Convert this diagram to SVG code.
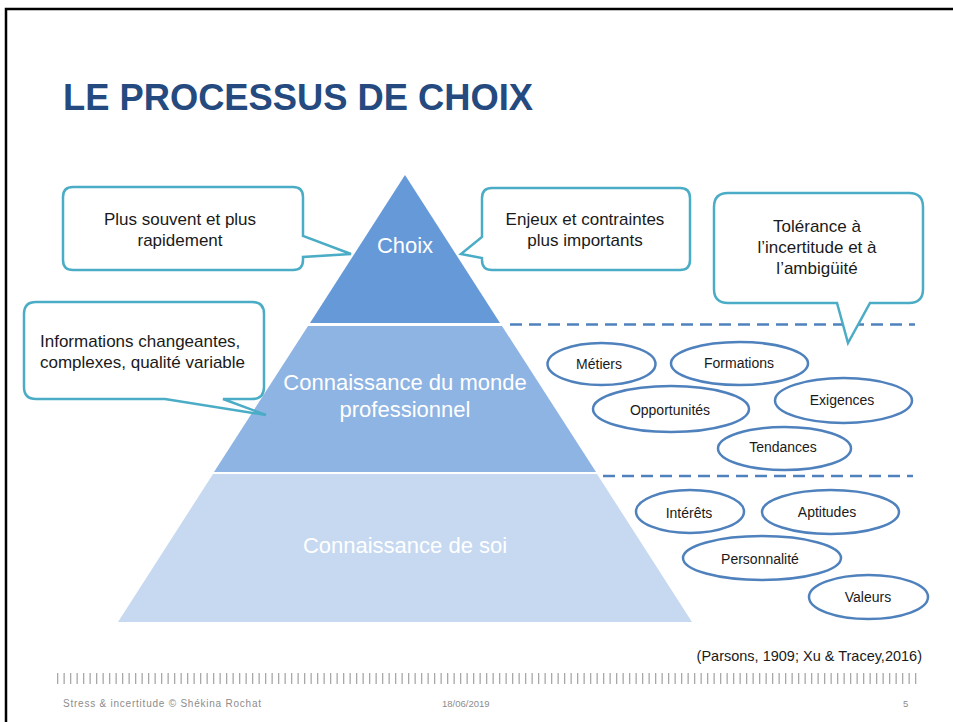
<svg xmlns="http://www.w3.org/2000/svg" width="953" height="722" viewBox="0 0 953 722">
<style>
.callout{fill:#fff;stroke:#4BACC6;stroke-width:2.5;stroke-linejoin:miter}
.ctext{font-family:"Liberation Sans",Arial,sans-serif;font-size:17px;fill:#1a1a1a}
.oval{fill:#fff;stroke:#4F81BD;stroke-width:2.5}
.otext{font-family:"Liberation Sans",Arial,sans-serif;font-size:14px;fill:#1a1a1a;text-anchor:middle}
.tier{font-family:"Liberation Sans",Arial,sans-serif;font-size:22px;fill:#fff;text-anchor:middle}
.dash{stroke:#4F81BD;stroke-width:2.5;stroke-dasharray:12 7;fill:none}
.foot{font-family:"Liberation Sans",Arial,sans-serif;fill:#8C8C8C}
</style>
<rect width="953" height="722" fill="#fff"/>
<path d="M6,722 V9 H953" fill="none" stroke="#000" stroke-width="2.5"/>
<text x="63" y="110" font-family="'Liberation Sans',Arial,sans-serif" font-weight="bold" font-size="36" fill="#244A80" textLength="470" lengthAdjust="spacingAndGlyphs">LE PROCESSUS DE CHOIX</text>

<g id="tier-choix">
<polygon points="405,175 500,323 310,323" fill="#6699D8"/>
<text class="tier" x="405" y="253">Choix</text>
</g>
<g id="tier-monde">
<polygon points="308,326 502,326 596,472 214,472" fill="#8EB4E3"/>
<text class="tier" x="405" y="390">Connaissance du monde</text>
<text class="tier" x="405" y="417">professionnel</text>
</g>
<g id="tier-soi">
<polygon points="213,474 597,474 692,622 118,622" fill="#C6D9F1"/>
<text class="tier" x="405" y="553">Connaissance de soi</text>
</g>

<g id="connectors">
<line class="dash" x1="510" y1="324.5" x2="915" y2="324.5"/>
<line class="dash" x1="603" y1="476" x2="913" y2="476"/>
</g>

<g id="callout-souvent">
<path class="callout" d="M73,187 H293 Q303,187 303,197 V236 L351,254 L303,257 V260 Q303,270 293,270 H73 Q63,270 63,260 V197 Q63,187 73,187 Z"/>
<text class="ctext" x="180" y="225" text-anchor="middle">Plus souvent et plus</text>
<text class="ctext" x="180" y="246" text-anchor="middle">rapidement</text>
</g>
<g id="callout-enjeux">
<path class="callout" d="M492,188 H680 Q690,188 690,198 V260 Q690,270 680,270 H492 Q482,270 482,260 V258 L461,254 L482,237 V198 Q482,188 492,188 Z"/>
<text class="ctext" x="585" y="225" text-anchor="middle">Enjeux et contraintes</text>
<text class="ctext" x="585" y="246" text-anchor="middle">plus importants</text>
</g>
<g id="callout-tolerance">
<path class="callout" d="M728,193 H909 Q923,193 923,207 V289 Q923,303 909,303 H870 L848,343 L837,303 H728 Q714,303 714,289 V207 Q714,193 728,193 Z"/>
<text class="ctext" x="817" y="232" text-anchor="middle">Tolérance à</text>
<text class="ctext" x="817" y="253" text-anchor="middle">l’incertitude et à</text>
<text class="ctext" x="817" y="274" text-anchor="middle">l’ambigüité</text>
</g>
<g id="callout-informations">
<path class="callout" d="M36,302 H252 Q264,302 264,314 V387 Q264,399 252,399 H223 L266,415 L165,399 H36 Q24,399 24,387 V314 Q24,302 36,302 Z"/>
<text class="ctext" x="40" y="347">Informations changeantes,</text>
<text class="ctext" x="40" y="368">complexes, qualité variable</text>
</g>

<g id="oval-metiers"><ellipse class="oval" cx="601.5" cy="364" rx="54" ry="21"/><text class="otext" x="599" y="369">Métiers</text></g>
<g id="oval-formations"><ellipse class="oval" cx="739.5" cy="363.5" rx="68.5" ry="21.5"/><text class="otext" x="739" y="368">Formations</text></g>
<g id="oval-opportunites"><ellipse class="oval" cx="671" cy="409" rx="78" ry="23"/><text class="otext" x="670" y="415">Opportunités</text></g>
<g id="oval-exigences"><ellipse class="oval" cx="843.5" cy="400.5" rx="68.5" ry="22.5"/><text class="otext" x="842" y="405">Exigences</text></g>
<g id="oval-tendances"><ellipse class="oval" cx="784.5" cy="448.5" rx="66.5" ry="21.5"/><text class="otext" x="783" y="452">Tendances</text></g>
<g id="oval-interets"><ellipse class="oval" cx="690" cy="511.5" rx="54" ry="21.5"/><text class="otext" x="689" y="518">Intérêts</text></g>
<g id="oval-aptitudes"><ellipse class="oval" cx="830.5" cy="512" rx="68.5" ry="22"/><text class="otext" x="827" y="517">Aptitudes</text></g>
<g id="oval-personnalite"><ellipse class="oval" cx="762" cy="558" rx="79" ry="22"/><text class="otext" x="760" y="564">Personnalité</text></g>
<g id="oval-valeurs"><ellipse class="oval" cx="868.5" cy="597" rx="59.5" ry="22"/><text class="otext" x="868" y="602">Valeurs</text></g>

<text x="922" y="661" text-anchor="end" font-family="'Liberation Sans',Arial,sans-serif" font-size="14.5" fill="#1a1a1a">(Parsons, 1909; Xu &amp; Tracey,2016)</text>
<line x1="57" y1="678.5" x2="917" y2="678.5" stroke="#A8A8A8" stroke-width="11" stroke-dasharray="1.3 5.2"/>
<text class="foot" x="63" y="707" font-size="10" textLength="198" lengthAdjust="spacing">Stress &amp; incertitude © Shékina Rochat</text>
<text class="foot" x="442" y="707" font-size="9.5">18/06/2019</text>
<text class="foot" x="903" y="707" font-size="9.5">5</text>
</svg>
